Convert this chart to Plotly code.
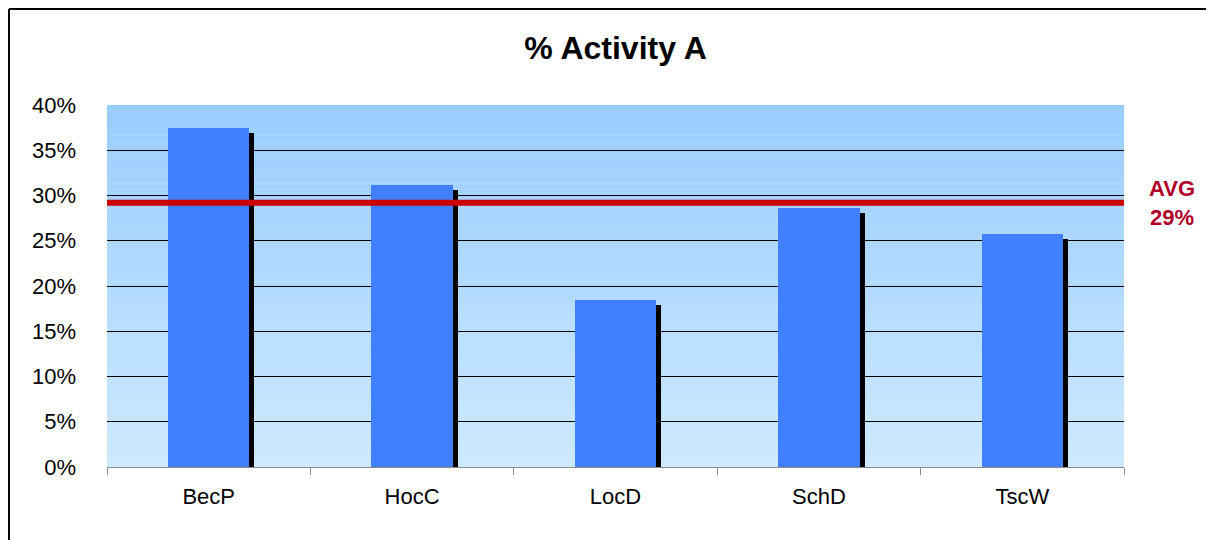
import plotly.graph_objects as go

# datos del gráfico
categories = ["BecP", "HocC", "LocD", "SchD", "TscW"]
activity_pct = [37.5, 31.2, 18.5, 28.6, 25.7]
avg_pct = 29.2
avg_label = "AVG<br>29%"
title_text = "% Activity A"

BAR_BLUE = "#4080ff"
AVG_RED = "#cc0000"


def gradient_shapes(top="#99ccff", bottom="#cde9ff", steps=60):
    """Franjas finas para simular el degradado del fondo estilo Excel."""
    def hex_rgb(h):
        return [int(h[i:i + 2], 16) for i in (1, 3, 5)]
    t, b = hex_rgb(top), hex_rgb(bottom)
    shapes = []
    for i in range(steps):
        f = i / (steps - 1)
        c = [round(b[k] + (t[k] - b[k]) * f) for k in range(3)]
        shapes.append(dict(
            type="rect", xref="x domain", yref="y domain",
            x0=0, x1=1, y0=i / steps, y1=(i + 1) / steps,
            fillcolor=f"rgb({c[0]},{c[1]},{c[2]})",
            line=dict(width=0), layer="below"))
    return shapes


fig = go.Figure()

# sombra negra desplazada
fig.add_trace(go.Bar(
    x=categories, y=activity_pct, base=-0.55,
    width=0.4, offset=-0.175,
    marker=dict(color="black", line=dict(width=0)),
    hoverinfo="skip", showlegend=False))

# barras principales
fig.add_trace(go.Bar(
    x=categories, y=activity_pct,
    width=0.4, offset=-0.2,
    marker=dict(color=BAR_BLUE, line=dict(width=0)),
    showlegend=False))

shapes = gradient_shapes()
# línea de promedio
shapes.append(dict(type="line", xref="x domain", yref="y",
                   x0=0, x1=1, y0=avg_pct, y1=avg_pct,
                   line=dict(color=AVG_RED, width=6), layer="above"))
# marco exterior (solo borde izquierdo y superior quedan dentro de la imagen)
shapes.append(dict(type="line", xref="paper", yref="paper",
                   x0=-0.0964, x1=-0.0964, y0=-0.5, y1=1.2652,
                   line=dict(color="black", width=2), layer="above"))
shapes.append(dict(type="line", xref="paper", yref="paper",
                   x0=-0.0964, x1=1.5, y0=1.2652, y1=1.2652,
                   line=dict(color="black", width=2), layer="above"))

fig.update_layout(
    width=1206, height=532,
    margin=dict(l=99, r=90, t=97, b=73),
    paper_bgcolor="white", plot_bgcolor="#cde9ff",
    barmode="overlay", bargap=0,
    font=dict(family="Liberation Sans, Arial, sans-serif", size=22, color="black"),
    title=dict(text=f"<b>{title_text}</b>", x=0.5, xref="paper",
               y=0.925, yanchor="middle", font=dict(size=32)),
    shapes=shapes,
    annotations=[dict(
        text=f"<b>{avg_label}</b>", xref="paper", yref="y",
        x=1.047, y=avg_pct, xanchor="center", yanchor="middle",
        showarrow=False, align="center",
        font=dict(color="#b0002a", size=22))],
)
fig.update_xaxes(
    showgrid=False, showline=True, linecolor="#8c8c8c", linewidth=1,
    ticks="outside", tickson="boundaries", ticklen=7, tickcolor="#8c8c8c",
    tickfont=dict(size=22), ticklabelstandoff=10)
fig.update_yaxes(
    range=[0, 40], dtick=5, ticksuffix="%",
    showgrid=True, gridcolor="black", gridwidth=1,
    zeroline=False, showline=False, ticks="",
    tickfont=dict(size=22), ticklabelstandoff=30)

fig.write_html("out.html")
